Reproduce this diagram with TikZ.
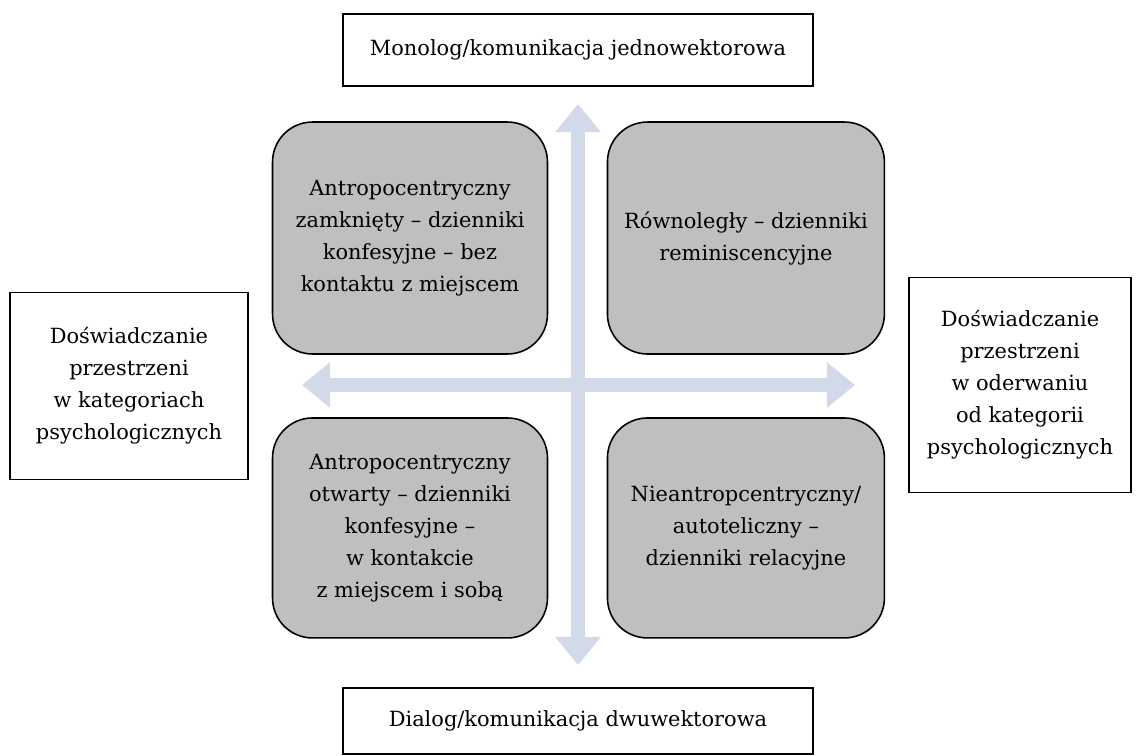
\documentclass[tikz,border=0pt]{standalone}
\usepackage{fontspec}
\setmainfont{DejaVu Serif}
\usetikzlibrary{arrows.meta}

\begin{document}
\begin{tikzpicture}[x=0.02cm, y=-0.02cm, semithick, node distance=6.72cm]
%====Definicja kolorow===============================================================
	\definecolor{strzalka}{RGB}{210,218,234}
	\definecolor{szary}{RGB}{191,191,191}
%====Definicja stylow pol===============================================================
	\tikzstyle{pole}=[rectangle, rounded corners=0.8cm, draw=black, fill=szary, line width=0.9pt, inner sep=0pt, align=center, font=\fontsize{11.9}{18.2}\selectfont]
	\tikzstyle{ramka}=[rectangle, draw=black, fill=white, line width=1pt, inner sep=0pt, align=center, font=\fontsize{11.9}{18.2}\selectfont]
	\tikzstyle{os}=[line width=8pt, strzalka, {Triangle[width=25pt,length=16pt]}-{Triangle[width=25pt,length=16pt]}]
	\path[fill=white] (0,0) rectangle (1138,755);
	\useasboundingbox (0,0) rectangle (1138,755);
%====Osie===============================================================
	\coordinate (gora)  at (578,104);
	\coordinate (dol)   at (578,665);
	\coordinate (lewo)  at (302,385);
	\coordinate (prawo) at (855,385);
	\draw[os] (gora) -- (dol);
	\draw[os] (lewo) -- (prawo);
%====Ramki zewnetrzne===============================================================
	\node[ramka, minimum width=9.4cm, minimum height=1.44cm]	(mono)	at (578,50)		{Monolog/komunikacja jednowektorowa};
	\node[ramka, minimum width=9.4cm, minimum height=1.32cm]	(dial)	at (578,721)	{Dialog/komunikacja dwuwektorowa};
	\node[ramka, minimum width=4.76cm, minimum height=3.74cm]	(lewy)	at (129,386)	{Doświadczanie\\przestrzeni\\w kategoriach\\psychologicznych};
	\node[ramka, minimum width=4.44cm, minimum height=4.3cm]	(prawy)	at (1020,385)	{Doświadczanie\\przestrzeni\\w oderwaniu\\od kategorii\\psychologicznych};
%====Pola i pozycja===============================================================
	\node[pole, minimum width=5.5cm, minimum height=4.64cm]		(A)	at (410,238)		{Antropocentryczny\\zamknięty – dzienniki\\konfesyjne – bez\\kontaktu z miejscem};
	\node[pole, minimum width=5.54cm, minimum height=4.64cm]	(B)	[right of=A]		{Równoległy – dzienniki\\reminiscencyjne};
	\node[pole, minimum width=5.5cm, minimum height=4.4cm]		(C)	[below of=A, node distance=5.8cm]	{Antropocentryczny\\otwarty – dzienniki\\konfesyjne –\\w kontakcie\\z miejscem i sobą};
	\node[pole, minimum width=5.54cm, minimum height=4.4cm]		(D)	[right of=C]		{Nieantropcentryczny/\\autoteliczny –\\dzienniki relacyjne};
\end{tikzpicture}
\end{document}
